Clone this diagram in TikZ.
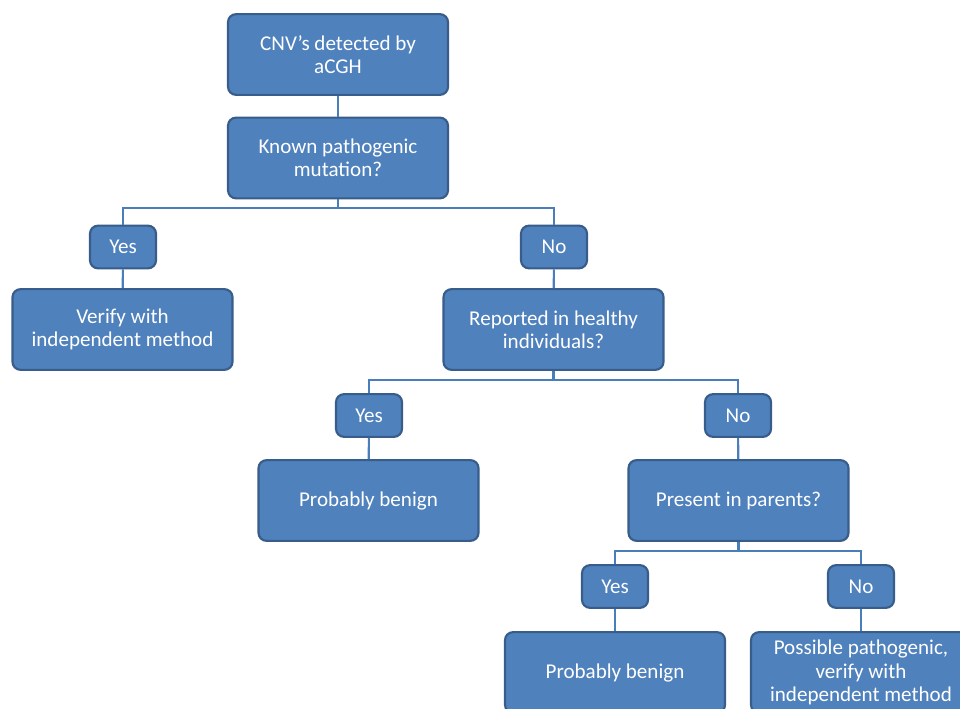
\documentclass[tikz,border=0pt]{standalone}
\usepackage{fontspec}
\setmainfont{Carlito}
\definecolor{boxfill}{HTML}{4F81BD}
\definecolor{boxline}{HTML}{385D8A}
\definecolor{conn}{HTML}{4A7EBB}
\begin{document}
\begin{tikzpicture}[x=0.75pt,y=-0.75pt,
  base/.style={draw=boxline,fill=boxfill,line width=1.6pt,rounded corners=6pt,
    text=white,align=center,font=\fontsize{15.8pt}{17.4pt}\selectfont,inner sep=0pt},
  bigbox/.style={base,minimum width=165pt,minimum height=60.5pt},
  smallbox/.style={base,minimum width=49.5pt,minimum height=32pt},
  conn/.style={draw=conn,line width=1.6pt}]
\clip (0,0) rectangle (960,709);
\fill[white] (0,0) rectangle (960,709);
% boxes
\node[bigbox] (cnv) at (338,54.5) {CNV’s detected by\\aCGH};
\node[bigbox] (known) at (338,158) {Known pathogenic\\mutation?};
\node[smallbox] (y1) at (123,247) {Yes};
\node[smallbox] (n1) at (554,247) {No};
\node[bigbox] (verify) at (122.5,329.5) {Verify with\\independent method};
\node[bigbox] (rep) at (553.5,329.5) {Reported in healthy\\individuals?};
\node[smallbox] (y2) at (369,415.5) {Yes};
\node[smallbox] (n2) at (738,415.5) {No};
\node[bigbox] (ben1) at (368.5,500.5) {Probably benign};
\node[bigbox] (par) at (738.5,500.5) {Present in parents?};
\node[smallbox] (y3) at (615,586.5) {Yes};
\node[smallbox] (n3) at (861,586.5) {No};
\node[bigbox] (ben2) at (615,672.5) {Probably benign};
\node[bigbox] (pos) at (861,672.5) {Possible pathogenic,\\verify with\\independent method};
% junctions
\coordinate (j1) at (338,208);
\coordinate (j2) at (553.5,380);
\coordinate (j3) at (738.5,551);
% connectors
\draw[conn] (cnv) -- (known);
\draw[conn] (known.south) -- (j1) -| (y1.north);
\draw[conn] (j1) -| (n1.north);
\draw[conn] (y1) -- (verify);
\draw[conn] (n1) -- (rep);
\draw[conn] (rep.south) -- (j2) -| (y2.north);
\draw[conn] (j2) -| (n2.north);
\draw[conn] (y2) -- (ben1);
\draw[conn] (n2) -- (par);
\draw[conn] (par.south) -- (j3) -| (y3.north);
\draw[conn] (j3) -| (n3.north);
\draw[conn] (y3) -- (ben2);
\draw[conn] (n3) -- (pos);
\end{tikzpicture}
\end{document}
